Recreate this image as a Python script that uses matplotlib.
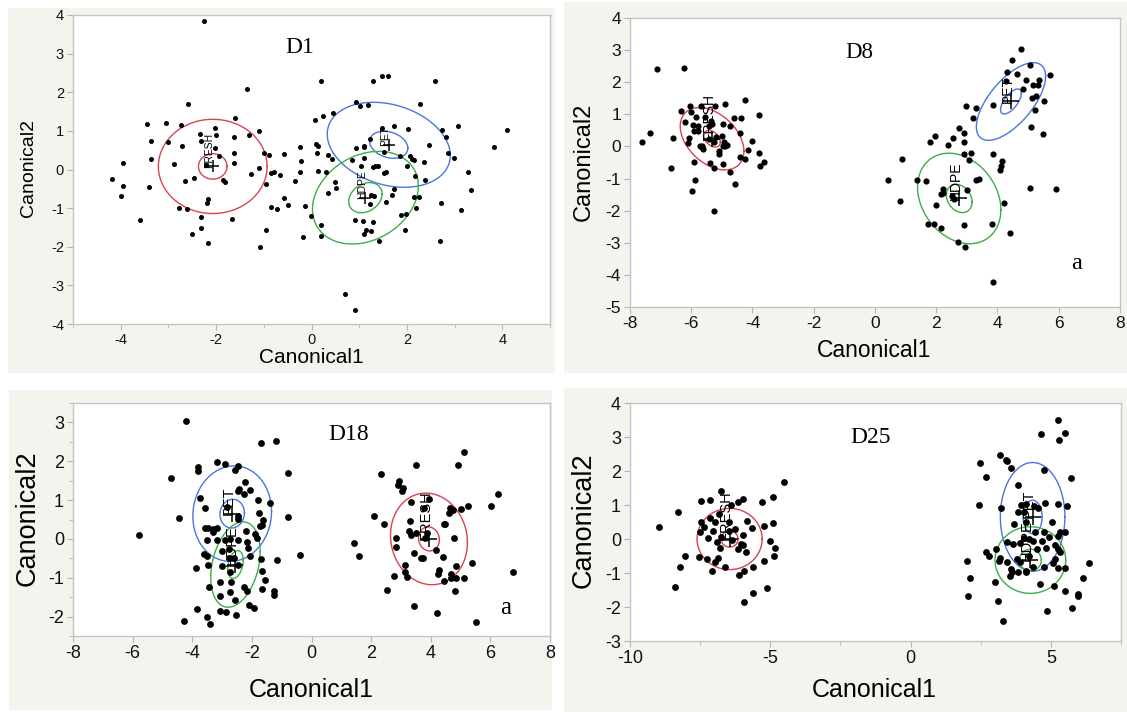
import numpy as np
import matplotlib
matplotlib.use("Agg")
import matplotlib.pyplot as plt
from matplotlib.patches import Rectangle
from matplotlib.ticker import MultipleLocator

plt.rcParams['font.family'] = ['Liberation Sans', 'DejaVu Sans']

# ---- data ----
d1_points = [
    (-2.26, 3.84), (-1.36, 2.08), (-2.58, 1.70), (-3.44, 1.17), (-3.04, 1.21), (-2.74, 1.15),
    (-3.36, 0.74), (-3.0, 0.70), (-3.96, 0.16), (-4.18, -0.25), (-3.96, -0.43), (-3.99, -0.68),
    (-3.36, 0.27), (-2.89, 0.15), (-2.71, 0.62), (-3.41, -0.45), (-3.59, -1.32), (-2.65, -0.31),
    (-2.47, -0.22), (-2.77, -0.99), (-2.62, -1.01), (-2.34, 0.93), (-2.03, 1.08), (-2.0, 0.9),
    (-2.31, 0.74), (-2.03, 0.55), (-1.93, 0.36), (-2.21, 0.11), (-1.85, -0.28), (-1.81, -0.33),
    (-2.16, -0.77), (-2.19, -0.88), (-2.31, -1.23), (-2.31, -1.51), (-2.5, -1.68), (-2.18, -1.89),
    (-1.67, -1.27), (-1.61, 1.34), (-1.63, 0.83), (-1.62, 0.43), (-1.62, 0.16), (-1.31, 0.9),
    (-1.11, 0.99), (-1.26, -0.11), (-1.11, 0.03), (-1.0, 0.42), (-0.9, 0.38), (-0.95, -0.37),
    (-0.84, -0.1), (-0.78, -0.07), (-0.67, -0.15), (-0.84, -0.97), (-0.73, -1.01), (-0.57, -0.75),
    (-0.5, -0.91), (-0.57, 0.41), (-0.96, -1.56), (-1.09, -2.0), (-0.35, -0.3), (-0.24, 0.58),
    (-0.22, 0.21), (-0.24, -0.07), (-0.14, -0.94), (-0.01, -1.2), (-0.18, -1.75), (0.2, 2.3),
    (0.07, 1.28), (0.25, 1.38), (0.45, 1.46), (0.09, 0.66), (0.14, 0.62), (0.11, 0.44),
    (0.35, 0.38), (0.43, 0.28), (0.13, -0.04), (0.31, -0.06), (0.49, -0.33), (0.52, -0.47),
    (0.35, -0.61), (0.19, -1.44), (0.19, -1.73), (0.7, -3.22), (0.91, -3.63), (0.93, 1.75),
    (1.01, 1.64), (1.19, 1.66), (1.29, 2.29), (1.47, 2.42), (1.61, 2.43), (2.58, 2.28),
    (2.27, 1.7), (1.48, 1.08), (1.73, 1.13), (2.02, 1.05), (2.73, 1.02), (2.83, 0.83),
    (3.08, 1.13), (3.82, 0.59), (4.09, 1.03), (0.93, 0.55), (1.1, 0.58), (1.11, 0.62),
    (1.23, 0.78), (1.53, 0.45), (1.86, 0.35), (2.06, 0.36), (2.1, 0.26), (2.15, 0.24),
    (2.47, 0.64), (2.87, 0.42), (2.98, 0.29), (2.36, 0.19), (2.0, 0.1), (1.11, 0.3),
    (1.03, 0.1), (0.84, 0.24), (1.28, 0.07), (1.33, 0.1), (1.39, 0.1), (1.52, -0.1),
    (1.56, -0.06), (2.16, -0.16), (2.38, -0.28), (3.28, -0.07), (3.35, -0.52), (1.74, -0.5),
    (1.68, -0.65), (1.25, -0.65), (1.3, -0.68), (1.22, -0.9), (1.56, -0.84), (2.15, -0.71),
    (2.25, -0.71), (2.2, -0.99), (2.71, -0.87), (3.13, -1.06), (0.92, -1.3), (1.07, -1.33),
    (1.29, -1.35), (1.14, -1.56), (1.24, -1.58), (1.1, -1.68), (1.41, -1.86), (1.88, -1.18),
    (1.98, -1.14), (1.96, -1.57), (2.7, -1.85),
]

d8_points = [
    (-7.13, 2.42), (-6.25, 2.44), (-7.6, 0.13), (-7.34, 0.42), (-6.6, 0.25), (-6.66, -0.67),
    (-6.33, 1.11), (-6.21, 0.75), (-6.04, 1.25), (-6.0, 1.06), (-5.95, 0.67), (-5.91, 0.49),
    (-5.85, 0.91), (-5.79, 0.63), (-5.79, 0.47), (-6.07, 0.25), (-6.1, 0.1), (-5.66, -0.03),
    (-5.64, 0.02), (-5.6, -0.08), (-5.69, 1.25), (-5.55, 0.91), (-5.43, 0.65), (-5.36, 0.8),
    (-5.31, 0.7), (-5.22, 1.25), (-5.43, 0.23), (-5.25, 0.15), (-4.9, 1.32), (-4.96, 0.7),
    (-4.98, 0.33), (-4.92, 0.13), (-4.9, 0.02), (-4.84, 0.04), (-4.96, 0.02), (-4.72, 0.63),
    (-4.61, 0.88), (-4.37, 0.9), (-4.4, 0.42), (-4.23, 1.44), (-3.8, 0.98), (-4.03, 0.18),
    (-4.14, -0.1), (-3.79, -0.19), (-3.61, -0.47), (-4.23, -0.4), (-4.4, -0.34), (-3.77, -0.61),
    (-5.08, -0.14), (-5.1, -0.24), (-5.39, -0.51), (-5.27, -0.67), (-4.96, -0.54), (-4.72, -0.8),
    (-4.58, -1.16), (-5.92, -0.48), (-5.87, -1.04), (-5.97, -1.4), (-5.27, -2.01), (-5.7, 0.02),
    (-5.19, 0.28),
    (4.76, 3.02), (4.47, 2.68), (5.05, 2.55), (5.71, 2.23), (4.65, 2.26), (4.32, 2.31),
    (4.27, 2.05), (4.94, 2.07), (5.35, 2.07), (4.84, 1.79), (5.15, 1.92), (5.33, 1.92),
    (5.12, 1.5), (5.26, 1.56), (5.52, 1.4), (5.24, 1.13), (5.1, 0.6), (5.5, 0.39),
    (3.85, 1.3), (3.29, 1.19), (2.97, 1.27), (3.2, 0.89), (2.74, 0.56), (2.89, 0.42),
    (2.89, 0.15), (2.56, 0.25), (2.39, 0.04), (1.95, 0.33), (1.8, 0.15), (0.87, -0.4),
    (0.42, -1.06), (0.82, -1.71), (1.36, -1.06), (1.67, -1.08), (2.89, -0.24), (3.06, -0.42),
    (3.13, -0.19), (3.85, -0.24), (4.15, -0.46), (4.11, -0.6), (4.09, -0.73), (3.29, -1.04),
    (3.41, -1.02), (2.21, -1.33), (2.15, -1.49), (2.23, -1.44), (2.5, -1.54), (3.0, -1.35),
    (1.98, -1.81), (1.74, -2.4), (1.92, -2.4), (2.16, -2.53), (2.91, -2.44), (3.82, -2.42),
    (2.7, -2.97), (2.94, -3.13), (4.21, -1.75), (4.42, -2.69), (5.06, -1.3), (5.92, -1.31),
    (3.85, -4.23), (2.59, -1.65),
]

d18_points = [
    (-4.22, 3.03), (-1.7, 2.48), (-1.19, 2.53), (-3.18, 1.97), (-2.9, 1.94), (-3.8, 1.86),
    (-3.8, 1.75), (-4.72, 1.58), (-2.48, 1.88), (-2.58, 1.77), (-0.78, 1.71), (-2.22, 1.47),
    (-2.42, 1.28), (-2.28, 1.15), (-2.06, 1.26), (-2.45, 1.23), (-3.74, 1.06), (-1.79, 1.01),
    (-1.4, 0.92), (-3.58, 0.8), (-2.83, 0.83), (-1.77, 0.66), (-2.48, 0.6), (-2.45, 0.51),
    (-4.46, 0.53), (-0.8, 0.56), (-1.64, 0.49), (-1.67, 0.36), (-1.73, 0.32), (-5.8, 0.1),
    (-3.58, 0.27), (-3.46, 0.29), (-3.32, 0.19), (-3.17, 0.29), (-2.21, 0.21), (-1.91, 0.12),
    (-1.82, 0.02), (-3.5, -0.03), (-3.18, -0.03), (-2.9, -0.03), (-2.72, 0.0), (-2.45, -0.03),
    (-2.78, -0.27), (-3.0, -0.31), (-2.12, -0.24), (-2.06, -0.45), (-3.62, -0.39), (-3.52, -0.45),
    (-3.46, -0.67), (-3.86, -0.74), (-2.78, -0.5), (-2.6, -0.5), (-2.45, -0.67), (-3.0, -0.71),
    (-2.72, -0.84), (-1.68, -0.51), (-1.15, -0.54), (-0.38, -0.41), (-1.67, -0.82), (-1.56, -1.07),
    (-3.08, -1.1), (-2.69, -1.12), (-3.44, -1.24), (-2.27, -1.24), (-2.18, -1.33), (-1.67, -1.29),
    (-1.27, -1.35), (-1.25, -1.44), (-2.72, -1.37), (-3.06, -1.48), (-2.58, -1.58), (-2.1, -1.7),
    (-1.94, -1.78), (-3.06, -1.85), (-2.88, -1.89), (-3.83, -1.8), (-2.54, -1.95), (-3.5, -2.02),
    (-3.42, -2.19), (-4.28, -2.12), (-3.29, 0.26), (-2.18, -0.07),
    (5.1, 2.23), (3.49, 1.9), (4.93, 1.9), (2.34, 1.66), (2.95, 1.5), (2.89, 1.4),
    (3.07, 1.3), (3.04, 1.23), (6.27, 1.16), (3.93, 1.03), (3.33, 0.94), (3.79, 0.8),
    (4.63, 0.8), (5.01, 0.77), (5.25, 0.84), (6.03, 0.86), (4.75, 0.74), (4.62, 0.66),
    (2.11, 0.6), (2.43, 0.38), (3.3, 0.46), (3.27, 0.21), (3.35, 0.09), (3.51, 0.15),
    (4.44, 0.38), (4.49, 0.38), (2.82, 0.02), (2.83, -0.22), (4.78, 0.02), (3.8, 0.02),
    (1.44, -0.11), (1.59, -0.44), (3.45, -0.37), (3.67, -0.5), (3.75, -0.48), (4.17, -0.28),
    (4.41, -0.47), (5.37, -0.61), (6.76, -0.86), (3.13, -0.68), (3.15, -0.84), (3.21, -0.97),
    (2.78, -0.96), (4.27, -0.8), (4.23, -0.9), (4.68, -0.9), (4.86, -0.71), (4.68, -1.01),
    (4.86, -1.01), (5.1, -1.01), (4.44, -1.08), (2.52, -1.32), (4.8, -1.35), (3.45, -1.72),
    (4.2, -1.91), (5.53, -2.14), (3.87, 0.15),
]

d25_points = [
    (-8.95, 0.36), (-8.28, 0.78), (-8.41, -1.4), (-8.21, -0.81), (-8.05, -0.49), (-7.47, 1.12),
    (-7.48, 0.51), (-7.5, 0.2), (-7.54, -0.54), (-7.35, 0.34), (-7.25, -0.59), (-7.14, 1.15),
    (-7.14, 0.61), (-7.21, 0.03), (-7.08, -0.95), (-7.03, 0.24), (-6.97, 0.49), (-6.97, -0.67),
    (-6.86, -0.57), (-6.89, -0.1), (-6.81, -0.27), (-6.83, 0.73), (-6.74, 1.42), (-6.76, 0.05),
    (-6.63, -0.83), (-6.48, 0.49), (-6.48, 0.23), (-6.41, 1.01), (-6.37, -0.03), (-6.26, 0.29),
    (-6.15, 1.1), (-5.99, 1.18), (-6.15, -0.29), (-6.03, -0.15), (-5.96, -0.18), (-5.87, -0.39),
    (-5.83, 0.54), (-5.64, 0.32), (-5.99, 0.12), (-6.13, -1.06), (-5.94, -0.93), (-5.61, -0.83),
    (-5.6, -1.59), (-5.95, -1.84), (-5.29, 1.08), (-4.9, 1.25), (-4.5, 1.68), (-5.21, 0.39),
    (-4.9, 0.47), (-5.0, -0.05), (-4.83, -0.27), (-4.85, -0.51), (-5.24, -0.65), (-5.1, -1.44),
    (5.24, 3.5), (4.66, 3.1), (5.52, 3.13), (5.29, 2.92), (3.17, 2.47), (3.39, 2.32),
    (3.43, 2.3), (2.49, 2.25), (3.59, 2.08), (4.75, 2.03), (2.68, 1.81), (5.72, 1.78),
    (3.82, 1.6), (2.43, 1.0), (3.23, 0.9), (3.95, 1.0), (4.13, 1.02), (4.39, 0.96),
    (4.79, 1.06), (5.24, 1.03), (5.56, 0.98), (3.82, 0.8), (4.04, 0.78), (4.55, 0.9),
    (3.69, 0.44), (4.13, 0.49), (5.05, 0.51), (5.34, 0.22), (5.5, 0.2), (4.43, 0.2),
    (4.77, 0.22), (4.04, 0.02), (4.23, 0.0), (4.36, -0.05), (4.68, -0.05), (4.94, 0.05),
    (5.24, 0.1), (3.42, -0.1), (3.65, -0.15), (3.91, -0.12), (4.52, -0.29), (4.84, -0.27),
    (5.16, -0.18), (5.26, -0.29), (3.03, -0.29), (2.68, -0.37), (2.81, -0.49), (2.0, -0.66),
    (2.13, -1.15), (2.04, -1.68), (3.2, -0.57), (3.14, -0.64), (3.43, -0.69), (3.78, -0.59),
    (3.91, -0.69), (3.59, -0.88), (3.63, -0.98), (3.53, -1.08), (3.82, -0.98), (4.1, -0.93),
    (4.36, -0.83), (4.75, -0.81), (5.16, -0.59), (5.26, -0.86), (5.5, -0.86), (5.07, -0.71),
    (5.34, -0.39), (4.6, -1.32), (5.11, -1.37), (3.01, -1.27), (3.1, -1.83), (4.88, -2.13),
    (5.5, -1.52), (5.75, -2.04), (5.95, -1.62), (5.97, -1.67), (6.14, -1.16), (6.36, -0.71),
    (3.3, -2.42), (4.1, -0.98), (4.23, -0.49),
]

# group means and ellipse sizes (half-width, half-height in data units, correlation)
d1_groups = ['FRESH', 'PET', 'HDPE']
d1_centers = [(-2.07, 0.08), (1.62, 0.64), (1.13, -0.73)]
d1_outer = [(1.14, 1.22), (1.29, 1.10), (1.11, 1.20)]
d1_inner = [(0.30, 0.33), (0.40, 0.35), (0.35, 0.39)]
d1_rho = [0.0, -0.25, 0.25]

d8_groups = ['FRESH', 'PET', 'HDPE']
d8_centers = [(-5.32, 0.24), (4.44, 1.40), (2.75, -1.62)]
d8_outer = [(1.04, 0.97), (1.13, 1.21), (1.36, 1.41)]
d8_inner = [(0.27, 0.26), (0.34, 0.39), (0.42, 0.44)]
d8_rho = [-0.4, 0.65, -0.25]

d18_groups = ['PET', 'HDPE', 'FRESH']
d18_centers = [(-2.66, 0.65), (-2.55, -0.66), (3.94, 0.0)]
d18_outer = [(1.32, 1.23), (0.83, 1.10), (1.29, 1.18)]
d18_inner = [(0.41, 0.37), (0.26, 0.36), (0.35, 0.31)]
d18_rho = [0.05, 0.3, -0.08]

d25_groups = ['FRESH', 'PET', 'HDPE']
d25_centers = [(-6.45, 0.0), (4.35, 0.65), (4.27, -0.62)]
d25_outer = [(1.16, 0.90), (1.15, 1.60), (1.26, 0.98)]
d25_inner = [(0.30, 0.24), (0.34, 0.49), (0.39, 0.32)]
d25_rho = [0.0, 0.0, 0.0]

group_colors = {'FRESH': '#d9434f', 'PET': '#4a74e0', 'HDPE': '#3dae48'}

W, H = 1127, 712
fig = plt.figure(figsize=(W / 100, H / 100), dpi=100)

# light gray panel backgrounds (pixel boxes: left, top, right, bottom)
for l, t, r, b in [(8, 8, 555, 373), (564, 2, 1127, 373), (9, 390, 552, 710), (564, 388, 1127, 712)]:
    fig.patches.append(Rectangle((l / W, 1 - b / H), (r - l) / W, (b - t) / H,
                                 transform=fig.transFigure, facecolor='#f4f4ef',
                                 edgecolor='none', zorder=-5))


def ellipse(ax, c, hw, hh, rho, color):
    t = np.linspace(0, 2 * np.pi, 240)
    x = c[0] + hw * np.cos(t)
    y = c[1] + hh * (rho * np.cos(t) + np.sqrt(1 - rho ** 2) * np.sin(t))
    ax.plot(x, y, color=color, lw=1.0, zorder=2)


def panel(rect, pts, groups, centers, outer, inner, rho, xlim, ylim, xmaj, xmin, ymaj, ymin,
          title, title_pos, tick_fs, xl_fs, yl_fs, xl_pos, yl_pos, dot_s, lab_fs, title_fs,
          note_pos=None):
    ax = fig.add_axes(rect)
    ax.set_facecolor('white')
    xs = [p[0] for p in pts]
    ys = [p[1] for p in pts]
    ax.scatter(xs, ys, s=dot_s, color='black', linewidths=0, zorder=3)
    for g, c, o, i, r in zip(groups, centers, outer, inner, rho):
        col = group_colors[g]
        ellipse(ax, c, o[0], o[1], r, col)
        ellipse(ax, c, i[0], i[1], r, col)
        ax.plot([c[0]], [c[1]], marker='+', ms=lab_fs * 1.1, mew=1.1, color='black', zorder=4)
        ax.annotate(g, xy=c, xytext=(-2.5, -1), textcoords='offset points', rotation=90,
                    ha='center', va='bottom', fontsize=lab_fs, color='black', zorder=4)
    ax.set_xlim(*xlim)
    ax.set_ylim(*ylim)
    ax.xaxis.set_major_locator(MultipleLocator(xmaj))
    ax.yaxis.set_major_locator(MultipleLocator(ymaj))
    if xmin:
        ax.xaxis.set_minor_locator(MultipleLocator(xmin))
    if ymin:
        ax.yaxis.set_minor_locator(MultipleLocator(ymin))
    for sp in ax.spines.values():
        sp.set_color('#c4c4c4')
        sp.set_linewidth(1.0)
    ax.tick_params(which='both', direction='out', color='#b4b4b4', labelcolor='#111111',
                   labelsize=tick_fs, top=False, right=False, pad=2)
    ax.tick_params(which='major', length=4.5)
    ax.tick_params(which='minor', length=3)
    ax.xaxis.set_major_formatter(plt.FuncFormatter(lambda v, p: f'{v:g}'))
    ax.yaxis.set_major_formatter(plt.FuncFormatter(lambda v, p: f'{v:g}'))
    ax.set_xlabel('Canonical1', fontsize=xl_fs)
    ax.set_ylabel('Canonical2', fontsize=yl_fs)
    ax.xaxis.set_label_coords(*xl_pos)
    ax.yaxis.set_label_coords(*yl_pos)
    ax.xaxis.label.set_va('center')
    ax.yaxis.label.set_va('center')
    ax.text(title_pos[0], title_pos[1], title, transform=ax.transAxes, ha='center', va='center',
            fontsize=title_fs, family=['Liberation Serif', 'DejaVu Serif'])
    if note_pos:
        ax.text(note_pos[0], note_pos[1], 'a', transform=ax.transAxes, ha='center', va='center',
                fontsize=title_fs + 1, family=['Liberation Serif', 'DejaVu Serif'])
    return ax


panel([73 / W, 1 - 324 / H, 477 / W, 309 / H], d1_points, d1_groups, d1_centers, d1_outer,
      d1_inner, d1_rho, (-5, 5), (-4, 4), 2, 1, 1, None, 'D1', (0.476, 0.896),
      10.5, 15, 14, (0.5, -0.107), (-0.094, 0.505), 13, 7.5, 17)

panel([630 / W, 1 - 307 / H, 490 / W, 289 / H], d8_points, d8_groups, d8_centers, d8_outer,
      d8_inner, d8_rho, (-8, 8), (-5, 4), 2, None, 1, None, 'D8', (0.467, 0.879),
      12.5, 16.5, 17, (0.498, -0.149), (-0.095, 0.502), 20, 10, 16.5, note_pos=(0.912, 0.149))

panel([73 / W, 1 - 636 / H, 477 / W, 233 / H], d18_points, d18_groups, d18_centers, d18_outer,
      d18_inner, d18_rho, (-8, 8), (-2.5, 3.5), 2, None, 1, 0.5, 'D18', (0.577, 0.863),
      13, 18, 19.5, (0.5, -0.232), (-0.096, 0.506), 24, 10.5, 17, note_pos=(0.906, 0.12))

panel([630 / W, 1 - 641 / H, 491 / W, 238 / H], d25_points, d25_groups, d25_centers, d25_outer,
      d25_inner, d25_rho, (-10, 7.5), (-3, 4), 5, 2.5, 1, None, 'D25', (0.49, 0.857),
      13, 18, 19.5, (0.497, -0.206), (-0.095, 0.508), 24, 10.5, 17)

fig.savefig('out.png', dpi=100, facecolor='white')
